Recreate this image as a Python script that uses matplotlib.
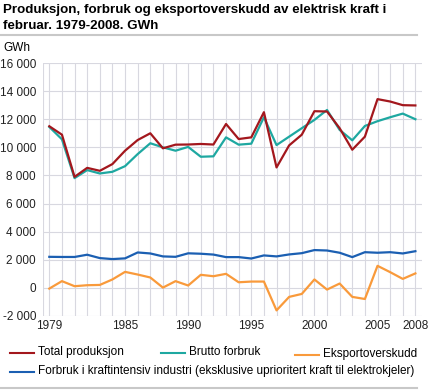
import matplotlib.pyplot as plt
import numpy as np
from matplotlib.lines import Line2D
from matplotlib.ticker import FuncFormatter

plt.rcParams['font.family'] = ['Liberation Sans', 'DejaVu Sans']

years = np.arange(1979, 2009)

total_produksjon = [11500, 10900, 7900, 8540, 8330, 8810, 9760, 10520, 11000, 9930,
                    10190, 10200, 10240, 10200, 11660, 10590, 10710, 12500, 8570, 10140,
                    10900, 12570, 12550, 11360, 9830, 10760, 13430, 13260, 13000, 12980]
brutto_forbruk = [11450, 10570, 7810, 8380, 8140, 8260, 8660, 9520, 10290, 10000,
                  9760, 10030, 9330, 9360, 10710, 10190, 10260, 12140, 10160, 10760,
                  11360, 11950, 12660, 11240, 10500, 11520, 11860, 12140, 12400, 12000]
eksportoverskudd = [-50, 480, 120, 190, 210, 600, 1140, 950, 740, 20,
                    480, 170, 930, 830, 1000, 400, 450, 450, -1600, -640,
                    -430, 600, -120, 310, -640, -790, 1570, 1120, 640, 1030]
kraftintensiv = [2210, 2200, 2200, 2360, 2120, 2050, 2100, 2520, 2450, 2240,
                 2210, 2460, 2430, 2370, 2190, 2190, 2090, 2310, 2240, 2380,
                 2470, 2690, 2660, 2500, 2190, 2540, 2500, 2540, 2450, 2610]

labels = ["Total produksjon", "Brutto forbruk", "Eksportoverskudd",
          "Forbruk i kraftintensiv industri (eksklusive uprioritert kraft til elektrokjeler)"]
colors = ["#a3171d", "#1ea8a1", "#f99a3b", "#1b5fb2"]
xtick_years = [1979, 1985, 1990, 1995, 2000, 2005, 2008]

fig = plt.figure(figsize=(4.29, 3.91), dpi=100)
ax = fig.add_axes([43/429, 1 - 316/391, (421.7 - 43)/429, (316 - 63)/391])

series = [total_produksjon, brutto_forbruk, eksportoverskudd, kraftintensiv]
# draw order: blue and orange below, red on top
for idx in [2, 3, 1, 0]:
    ax.plot(years, series[idx], color=colors[idx], lw=1.6, zorder=3)

ax.set_xlim(1978.5, 2008.5)
ax.set_ylim(-2000, 16000)
ax.set_yticks(np.arange(-2000, 16001, 2000))
ax.set_xticks(years, minor=True)
ax.set_xticks(xtick_years)
ax.yaxis.set_major_formatter(FuncFormatter(lambda v, p: f"{int(v):,}".replace(",", " ")))
ax.grid(True, which='both', axis='x', color='#d8d8e0', lw=0.8)
ax.grid(True, which='major', axis='y', color='#d8d8e0', lw=0.8)
ax.axvline(1978.5, color='#d8d8e0', lw=0.8)
ax.tick_params(which='both', length=0, labelsize=8.5, colors='#222222')
ax.tick_params(axis='y', pad=5)
ax.tick_params(axis='x', pad=3)
for s in ax.spines.values():
    s.set_visible(False)
ax.set_axisbelow(True)

# title, unit, separators
fig.text(3/429, 1 - 10/391, "Produksjon, forbruk og eksportoverskudd av elektrisk kraft i",
         fontsize=9.6, fontweight='bold', va='center', ha='left')
fig.text(3/429, 1 - 26/391, "februar. 1979-2008. GWh",
         fontsize=9.6, fontweight='bold', va='center', ha='left')
fig.add_artist(Line2D([0, 417/429], [1 - 35/391] * 2, color='#c8c8c8', lw=1.5))
fig.text(3/429, 1 - 48/391, "GWh", fontsize=8.5, va='center', ha='left')
fig.add_artist(Line2D([0, 417/429], [1 - 388/391] * 2, color='#c8c8c8', lw=1.5))

# legend
leg_pos = [(10, 353), (161, 353), (295, 355), (10, 372)]
for (lx, ly), lab, c in zip(leg_pos, labels, colors):
    fig.add_artist(Line2D([lx/429, (lx + 24)/429], [1 - ly/391] * 2, color=c, lw=1.5))
    fig.text((lx + 28)/429, 1 - (ly - 1)/391, lab, fontsize=8.5, va='center', ha='left')

fig.savefig("out.png", dpi=100)
